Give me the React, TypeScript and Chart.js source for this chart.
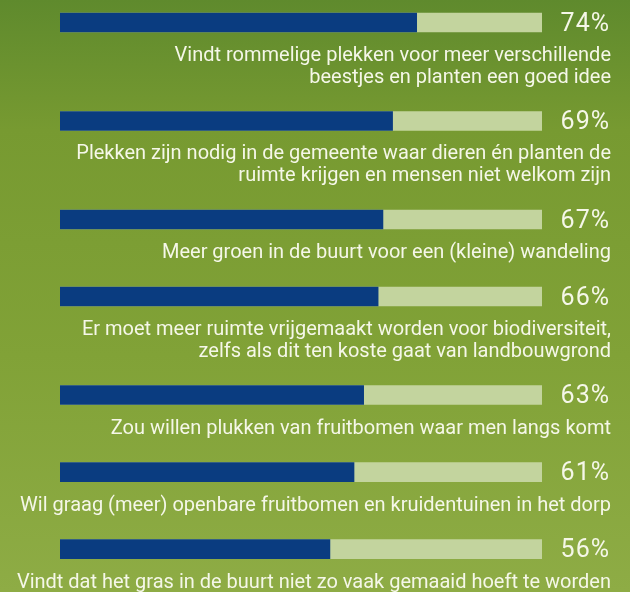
import React, { useEffect, useRef } from "react";
import { Chart, registerables } from "chart.js";

Chart.register(...registerables);

const categories: string[][] = [
  ["Vindt rommelige plekken voor meer verschillende", "beestjes en planten een goed idee"],
  ["Plekken zijn nodig in de gemeente waar dieren én planten de", "ruimte krijgen en mensen niet welkom zijn"],
  ["Meer groen in de buurt voor een (kleine) wandeling"],
  ["Er moet meer ruimte vrijgemaakt worden voor biodiversiteit,", "zelfs als dit ten koste gaat van landbouwgrond"],
  ["Zou willen plukken van fruitbomen waar men langs komt"],
  ["Wil graag (meer) openbare fruitbomen en kruidentuinen in het dorp"],
  ["Vindt dat het gras in de buurt niet zo vaak gemaaid hoeft te worden"],
];
const values: number[] = [74, 69, 67, 66, 63, 61, 56];
const maxValue = 100;
const percentLabels: string[] = values.map((v) => v + "%");

// layout of rows: each row takes a gap plus one unit per label line
const GAP_UNITS = 2.6;
const positions: number[] = [];
categories.forEach((lines, i) => {
  positions.push(i === 0 ? 0 : positions[i - 1] + GAP_UNITS + categories[i - 1].length);
});

const BLUE = "#0a3c80";
const TRACK = "#c3d49e";
const TEXT = "#f5f7e8";
const FONT = "Roboto, 'DejaVu Sans', sans-serif";

export default function App() {
  const ref = useRef<HTMLCanvasElement | null>(null);

  useEffect(() => {
    document.body.style.margin = "0";
    const canvas = ref.current;
    if (!canvas) return;

    const bgPlugin = {
      id: "bg",
      beforeDraw(chart: any) {
        const { ctx, width, height } = chart;
        const g = ctx.createLinearGradient(0, 0, 0, height);
        g.addColorStop(0, "#5f8a2d");
        g.addColorStop(0.22, "#779a31");
        g.addColorStop(0.6, "#81a237");
        g.addColorStop(1, "#8eac45");
        ctx.save();
        ctx.fillStyle = g;
        ctx.fillRect(0, 0, width, height);
        ctx.restore();
      },
    };

    const labelPlugin = {
      id: "labels",
      afterDatasetsDraw(chart: any) {
        const { ctx } = chart;
        const meta = chart.getDatasetMeta(1);
        ctx.save();
        ctx.fillStyle = TEXT;
        ctx.textAlign = "right";
        meta.data.forEach((el: any, i: number) => {
          const half = el.height / 2;
          ctx.font = "25px " + FONT;
          (ctx as any).letterSpacing = "1px";
          ctx.textBaseline = "middle";
          ctx.fillText(percentLabels[i], 610, el.y + 2);
          (ctx as any).letterSpacing = "0px";
          ctx.font = "20px " + FONT;
          ctx.textBaseline = "alphabetic";
          categories[i].forEach((line, k) => {
            ctx.fillText(line, 611, el.y + half + 29 + k * 22);
          });
        });
        ctx.restore();
      },
    };

    const chart = new Chart(canvas, {
      type: "bar",
      data: {
        datasets: [
          {
            label: "waarde",
            data: values.map((v, i) => ({ x: v, y: positions[i] })),
            backgroundColor: BLUE,
            barThickness: 19,
            grouped: false,
          } as any,
          {
            label: "totaal",
            data: values.map((_, i) => ({ x: maxValue, y: positions[i] })),
            backgroundColor: TRACK,
            barThickness: 19,
            grouped: false,
          } as any,
        ],
      },
      options: {
        animation: false,
        responsive: false,
        indexAxis: "y",
        layout: { padding: { left: 60, right: 88, top: 0, bottom: 0 } },
        plugins: { legend: { display: false }, tooltip: { enabled: false } },
        scales: {
          x: { type: "linear", min: 0, max: maxValue, display: false, offset: false },
          y: { type: "linear", reverse: true, min: -1.05, max: 26.6, display: false, offset: false },
        },
      },
      plugins: [bgPlugin, labelPlugin],
    });

    return () => chart.destroy();
  }, []);

  return (
    <div style={{ width: 630, height: 592 }}>
      <canvas ref={ref} width={630} height={592} style={{ display: "block" }} />
    </div>
  );
}
